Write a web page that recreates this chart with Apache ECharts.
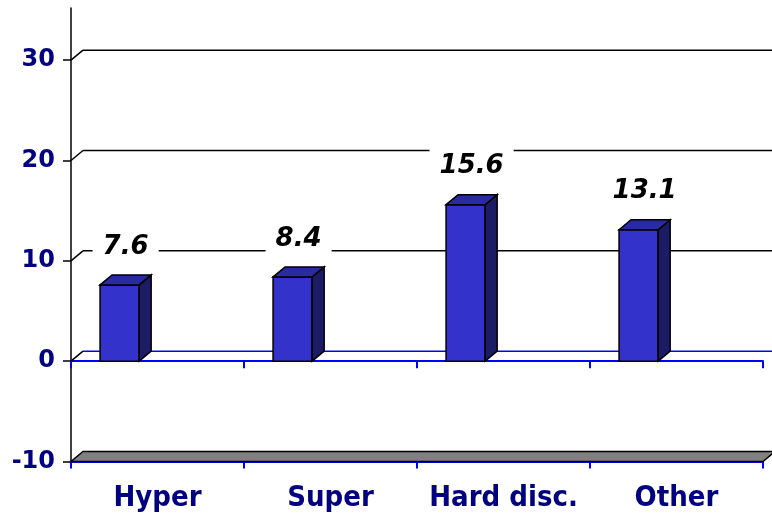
<!DOCTYPE html>
<html>
<head>
<meta charset="utf-8">
<script src="https://cdn.jsdelivr.net/npm/echarts@6/dist/echarts.min.js"></script>
<style>html,body{margin:0;padding:0;background:#fff}#c{width:772px;height:521px}</style>
</head>
<body>
<div id="c"></div>
<script>
const categories = ['Hyper', 'Super', 'Hard disc.', 'Other'];
const values = [7.6, 8.4, 15.6, 13.1];
const yTicks = [-10, 0, 10, 20, 30];

const DX = 12, DY = 10;
const chart = echarts.init(document.getElementById('c'), null, {renderer: 'canvas'});

function frameItem(params, api) {
  const v = api.value(1);
  const c = api.coord([0, v]);
  const bw = api.size([1, 0])[0];
  const x0 = c[0] - bw / 2;
  const xr = x0 + bw * categories.length;
  const y = c[1];
  if (v === yTicks[0]) {
    return {
      type: 'polygon',
      shape: {points: [[x0, y], [xr, y], [xr + DX, y - DY], [x0 + DX, y - DY]]},
      style: {fill: '#808080', stroke: '#000', lineWidth: 1.5}
    };
  }
  return {
    type: 'group',
    children: [
      {type: 'line', shape: {x1: x0, y1: y, x2: x0 + DX, y2: y - DY}, style: {stroke: '#000', lineWidth: 1.5}},
      {type: 'line', shape: {x1: x0 + DX, y1: y - DY, x2: xr + DX, y2: y - DY},
       style: {stroke: v === 0 ? '#0000ff' : '#000', lineWidth: 1.5}}
    ]
  };
}

function barItem(params, api) {
  const idx = api.value(0), v = api.value(1);
  const top = api.coord([idx, v]);
  const base = api.coord([idx, 0]);
  const bw = api.size([1, 0])[0];
  const xl = top[0] - bw / 2 + bw * 0.168;
  const w = bw * 0.226;
  const yt = top[1], yb = base[1];
  const xr = xl + w;
  return {
    type: 'group',
    children: [
      {type: 'rect', shape: {x: xl, y: yt, width: w, height: yb - yt},
       style: {fill: '#3333cc', stroke: '#000', lineWidth: 1.5}},
      {type: 'polygon', shape: {points: [[xr, yt], [xr + DX, yt - DY], [xr + DX, yb - DY], [xr, yb]]},
       style: {fill: '#1c1c66', stroke: '#000', lineWidth: 1.5}},
      {type: 'polygon', shape: {points: [[xl, yt], [xl + DX, yt - DY], [xr + DX, yt - DY], [xr, yt]]},
       style: {fill: '#2a2aa3', stroke: '#000', lineWidth: 1.5}},
      {type: 'text', x: xl + (w + DX) / 2, y: yt - 38,
       style: {text: String(v), fill: '#000', fontFamily: 'DejaVu Sans', fontStyle: 'italic',
               fontWeight: 'bold', fontSize: 26, align: 'center', verticalAlign: 'middle',
               backgroundColor: '#fff', padding: [6, 10]}}
    ]
  };
}

const option = {
  animation: false,
  backgroundColor: '#fff',
  grid: {left: 71, right: 9, top: 8, bottom: 59.5, containLabel: false, outerBoundsMode: 'none'},
  xAxis: [
    {type: 'category', data: categories, position: 'bottom',
     axisLine: {onZero: true, lineStyle: {color: '#0000ff', width: 2}},
     axisTick: {show: true, interval: 0, length: 7, lineStyle: {color: '#0000ff', width: 2}},
     axisLabel: {show: false, interval: 0}, splitLine: {show: false}},
    {type: 'category', data: categories, position: 'bottom',
     axisLine: {onZero: false, lineStyle: {color: '#0000ff', width: 2}},
     axisTick: {show: true, interval: 0, length: 7, lineStyle: {color: '#0000ff', width: 2}},
     axisLabel: {show: true, interval: 0, hideOverlap: false, color: '#000080',
                 fontFamily: '"DejaVu Sans Condensed", "DejaVu Sans"',
                 fontWeight: 'bold', fontSize: 29, margin: 22},
     splitLine: {show: false}}
  ],
  yAxis: {
    type: 'value', min: -10, max: 35.2, interval: 10,
    axisLine: {show: true, lineStyle: {color: '#000', width: 1.5}},
    axisTick: {show: true, length: 8, customValues: yTicks, lineStyle: {color: '#000', width: 1.5}},
    axisLabel: {color: '#000080', fontFamily: 'DejaVu Sans', fontWeight: 'bold', fontSize: 24,
                margin: 16, customValues: yTicks},
    splitLine: {show: false}
  },
  series: [
    {type: 'custom', name: 'frame', z: 1, silent: true, clip: false,
     xAxisIndex: 0, yAxisIndex: 0,
     data: yTicks.map(v => [0, v]), renderItem: frameItem},
    {type: 'custom', name: 'share', z: 3, clip: false,
     xAxisIndex: 0, yAxisIndex: 0,
     data: values.map((v, i) => [i, v]), renderItem: barItem}
  ]
};
chart.setOption(option);
</script>
</body>
</html>
